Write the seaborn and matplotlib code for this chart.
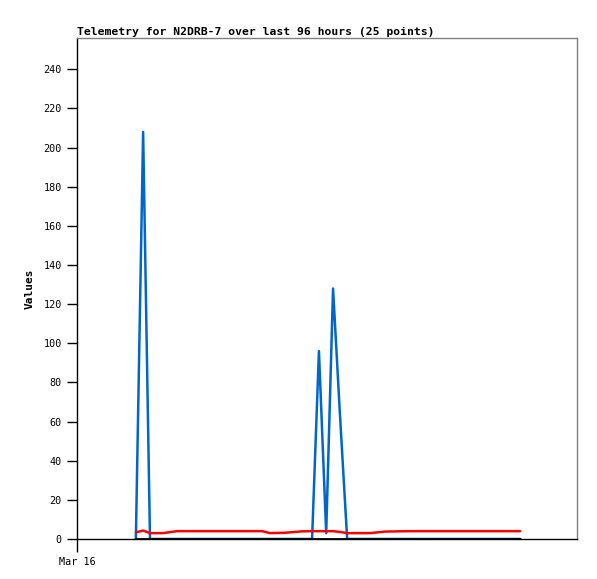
import pandas as pd
import matplotlib
matplotlib.use("Agg")
import matplotlib.pyplot as plt
import seaborn as sns

# hours since Mar 16 00:00
hours = [14.6, 16.4, 18.1, 21.3, 24.8, 31.7, 39.2, 45.9, 47.9, 51.6, 55.8, 58.3, 60.0,
         61.8, 63.5, 65.2, 67.0, 72.7, 76.4, 82.6, 90.0, 96.2, 102.4, 106.2, 109.9]
blue_vals = [0, 208, 0, 0, 0, 0, 0, 0, 0, 0, 0, 0, 96,
             3, 128, 64, 0, 0, 0, 0, 0, 0, 0, 0, 0]
red_vals = [3.4, 4.3, 3.0, 3.0, 4.0, 4.0, 4.0, 4.0, 3.0, 3.2, 3.9, 4.0, 4.0,
            4.0, 4.0, 3.6, 3.0, 3.0, 3.8, 4.0, 4.0, 4.0, 4.0, 4.0, 4.0]
black_vals = [0] * 25
xtick_pos = [0]
xtick_labels = ["Mar 16"]

df = pd.DataFrame({"hours": hours, "blue": blue_vals, "red": red_vals, "black": black_vals})

sns.set_style("white")
plt.rcParams['font.family'] = ['DejaVu Sans Mono', 'DejaVu Sans']
plt.rcParams['text.color'] = 'black'
plt.rcParams['axes.labelcolor'] = 'black'
plt.rcParams['xtick.color'] = 'black'
plt.rcParams['ytick.color'] = 'black'

fig = plt.figure(figsize=(5.97, 5.79), dpi=100)
ax = fig.add_axes([77/597, 40/579, 500/597, 501/579])

sns.lineplot(data=df, x="hours", y="blue", color="#0066cc", lw=1.8, ax=ax)
sns.lineplot(data=df, x="hours", y="red", color="#ff0000", lw=1.8, ax=ax)
sns.lineplot(data=df, x="hours", y="black", color="#000000", lw=2, ax=ax)

ax.set_xlim(0, 124)
ax.set_ylim(0, 256)
ax.set_yticks(range(0, 241, 20))
ax.set_xticks(xtick_pos)
ax.set_xticklabels(xtick_labels)
ax.tick_params(axis="both", direction="out", length=7, width=1, colors="black",
               labelsize=7.3, pad=4, left=True, bottom=True)
ax.tick_params(axis="x", length=9)

for s in ["left", "bottom"]:
    ax.spines[s].set_color("black")
    ax.spines[s].set_linewidth(1)
for s in ["top", "right"]:
    ax.spines[s].set_color("#808080")
    ax.spines[s].set_linewidth(1)

ax.set_xlabel("")
ax.set_ylabel("Values", fontsize=8, fontweight="bold", labelpad=6, color="black")
ax.set_title("Telemetry for N2DRB-7 over last 96 hours (25 points)", loc="left",
             fontsize=8.2, fontweight="bold", pad=2, color="black")

fig.savefig("out.png", dpi=100)
